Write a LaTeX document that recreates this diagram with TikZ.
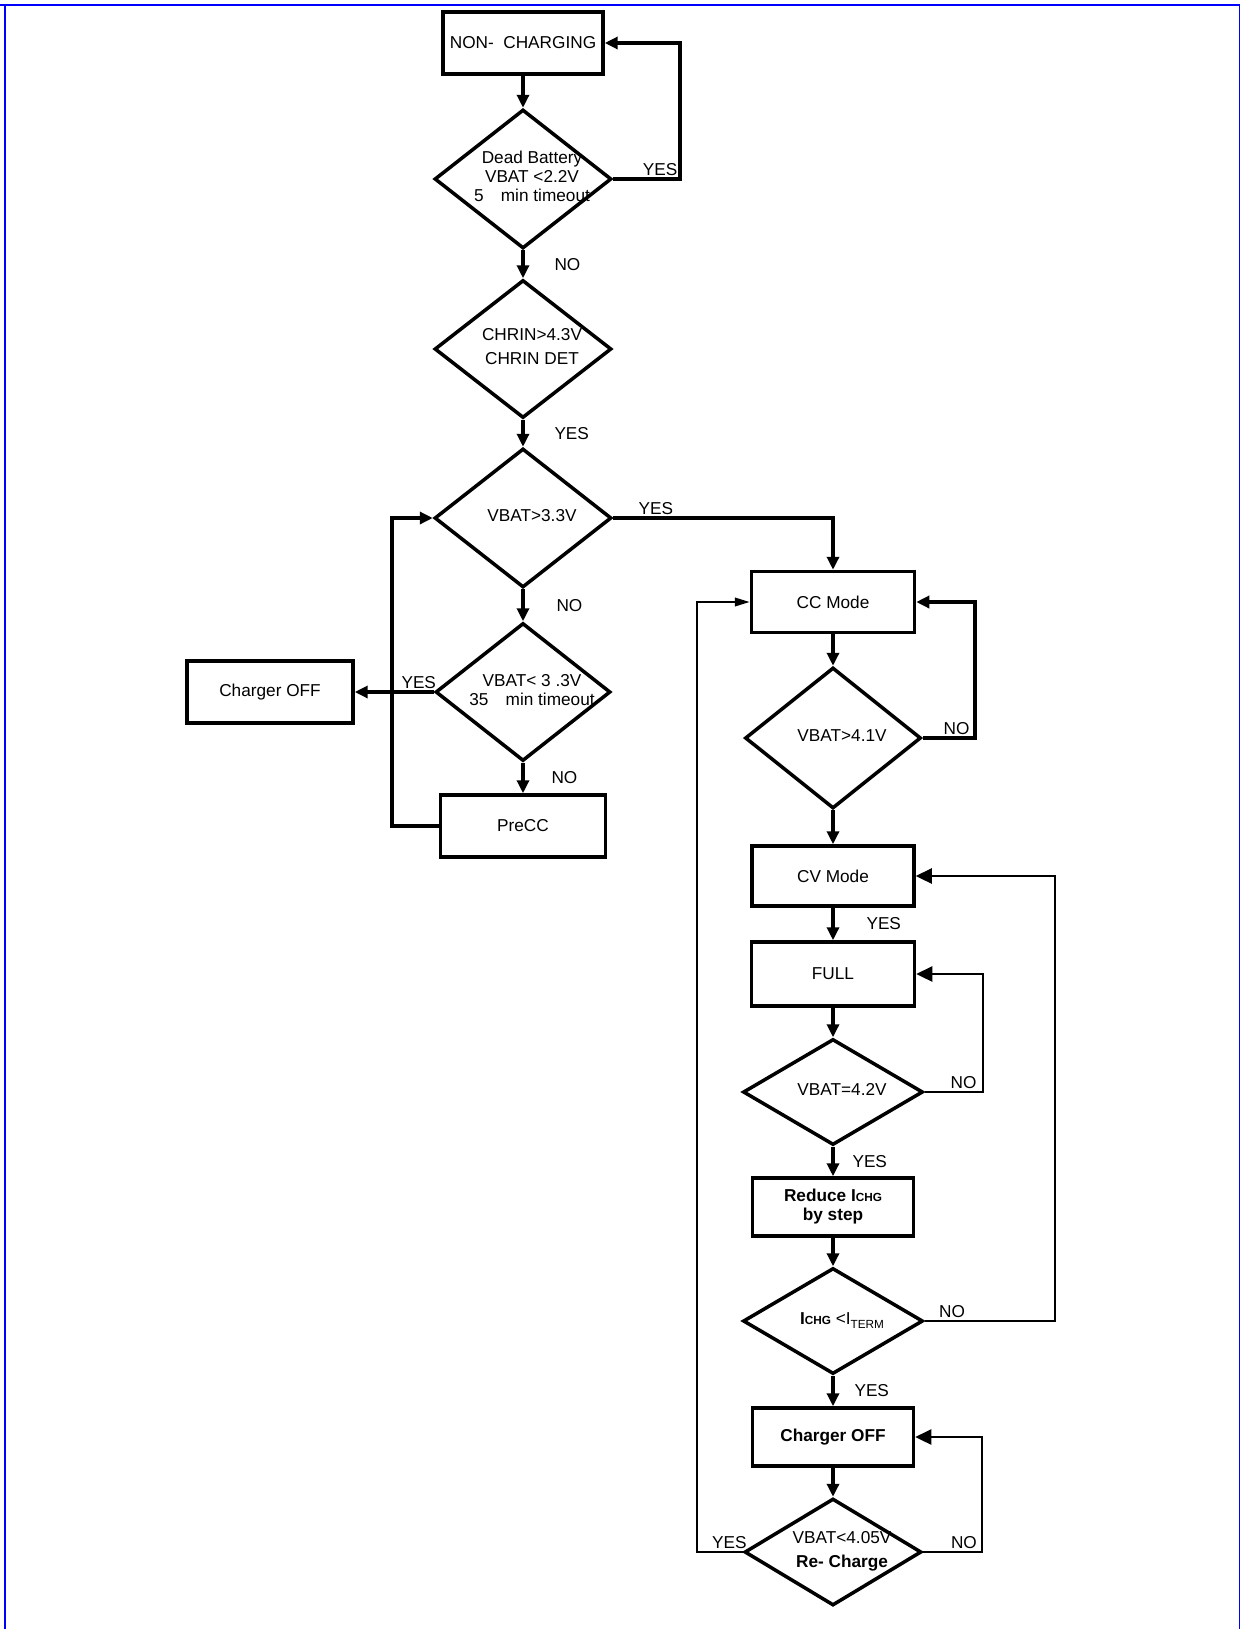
\documentclass[tikz,border=0pt]{standalone}
\usepackage{fontspec}
\setmainfont{Liberation Sans}
\usepackage{tikz}
\usetikzlibrary{arrows.meta,positioning,shapes.geometric}
\definecolor{frameblue}{HTML}{0000FF}
\newcommand\flowfont{\fontsize{9.8}{10.8}\selectfont}
\newcommand\subsm{\fontsize{6.7}{7}\selectfont}
% diamond text sits a little right of the centre
\newcommand\dtext[1]{\hspace*{0.36cm}\begin{tabular}{@{}c@{}}#1\end{tabular}}

\begin{document}
\begin{tikzpicture}[x=0.02cm,y=-0.02cm,every node/.style={font=\flowfont,align=center},
block/.style={draw,line width=2pt,minimum width=3.26cm,minimum height=1.22cm,inner sep=0pt},
strong/.style={font=\flowfont\bfseries},
decision/.style={diamond,draw,line width=2pt,minimum width=3.54cm,minimum height=2.78cm,inner sep=-2cm},
flat/.style={decision,minimum width=3.6cm,minimum height=2.12cm},
flow/.style={line width=2pt,-{Triangle[length=0.26cm,width=0.24cm]}},
back/.style={line width=1.3pt,-{Triangle[length=0.32cm,width=0.3cm]}},
yn/.style={inner sep=1pt}]
\useasboundingbox (0,0) rectangle (1240,1629);
\draw[frameblue,line width=0.04cm] (0,5) -- (1240,5) (5,5) -- (5,1629);
\draw[frameblue,line width=0.025cm] (1239.4,5) -- (1239.4,1629);
% left column
\node[block,minimum width=3.2cm,minimum height=1.24cm] (noncharge) at (523,43) {NON-~ CHARGING};
\node[decision] (dead) at (523,179) {\dtext{Dead Battery\\VBAT <2.2V\\5\quad min timeout}};
\node[decision,minimum height=2.76cm] (chrin) at (523,349) {\dtext{CHRIN>4.3V\\[3pt]CHRIN DET}};
\node[decision] (vbathi) at (523,518) {\dtext{VBAT>3.3V}};
\node[decision,minimum width=3.5cm,minimum height=2.76cm] (vbatlo) at (523,692) {\dtext{VBAT< 3 .3V\\35\quad min timeout}};
\node[block,minimum width=3.32cm,minimum height=1.24cm] (offpre) at (270,692) {Charger OFF};
\node[block,minimum width=3.3cm,minimum height=1.24cm] (precc) at (523,826) {PreCC};
% right column
\node[block] (cc) at (833,602) {CC Mode};
\node[decision,minimum width=3.52cm,minimum height=2.82cm] (vbatcc) at (833,738) {\dtext{VBAT>4.1V}};
\node[block,minimum width=3.24cm,minimum height=1.2cm] (cv) at (833,876) {CV Mode};
\node[block,minimum height=1.28cm] (full) at (833,974) {FULL};
\node[flat] (vbatfull) at (833,1092) {\dtext{VBAT=4.2V}};
\node[block,strong,minimum width=3.22cm,minimum height=1.16cm] (reduce) at (833,1207) {Reduce I{\subsm CHG}\\by step};
\node[flat] (ichg) at (833,1321) {\dtext{\textbf{I{\subsm CHG}} <I\raisebox{-0.45ex}{\subsm TERM}}};
\node[block,strong,minimum width=3.22cm,minimum height=1.16cm] (offend) at (833,1437) {Charger OFF};
\node[flat,minimum width=3.54cm,minimum height=2.14cm] (recharge) at (833,1552) {\dtext{VBAT<4.05V\\[3pt]\textbf{Re- Charge}}};
% connectors
\draw[flow] (noncharge) -- (dead);
\draw[flow] (dead.east) -- node[yn,above,pos=0.7]{YES} ++(67,0) |- (noncharge.east);
\draw[flow] (dead) -- node[yn,right=0.56cm]{NO} (chrin);
\draw[flow] (chrin) -- node[yn,right=0.56cm]{YES} (vbathi);
\draw[flow] (vbathi.east) -| node[yn,above right,pos=0.05]{YES} (cc.north);
\draw[flow] (vbathi) -- node[yn,right=0.6cm]{NO} (vbatlo);
\draw[flow] (vbatlo) -- node[yn,above,pos=0.19]{YES} (offpre);
\draw[flow] (vbatlo) -- node[yn,right=0.5cm]{NO} (precc);
\draw[flow] (precc.west) -- ++(-47,0) |- (vbathi.west);
\draw[flow] (cc) -- (vbatcc);
\draw[flow] (vbatcc.east) -- node[yn,above,pos=0.65]{NO} ++(52,0) |- (cc.east);
\draw[flow] (vbatcc) -- (cv);
\draw[flow] (cv) -- node[yn,right=0.6cm]{YES} (full);
\draw[flow] (full) -- (vbatfull);
\draw[back] (vbatfull.east) -- node[yn,above,pos=0.67]{NO} ++(58,0) |- (full.east);
\draw[flow] (vbatfull) -- node[yn,right=0.32cm]{YES} (reduce);
\draw[flow] (reduce) -- (ichg);
\draw[back] (ichg.east) -- node[yn,above,pos=0.21]{NO} ++(130,0) |- (cv.east);
\draw[flow] (ichg) -- node[yn,right=0.36cm]{YES} (offend);
\draw[flow] (offend) -- (recharge);
\draw[back] (recharge.east) -- node[yn,above,pos=0.69]{NO} ++(59,0) |- (offend.east);
\draw[back,-{Triangle[length=0.3cm,width=0.17cm]}] (recharge.west) -- node[yn,above,pos=0.29]{YES} ++(-46,0) |- (cc.west);
\end{tikzpicture}
\end{document}
